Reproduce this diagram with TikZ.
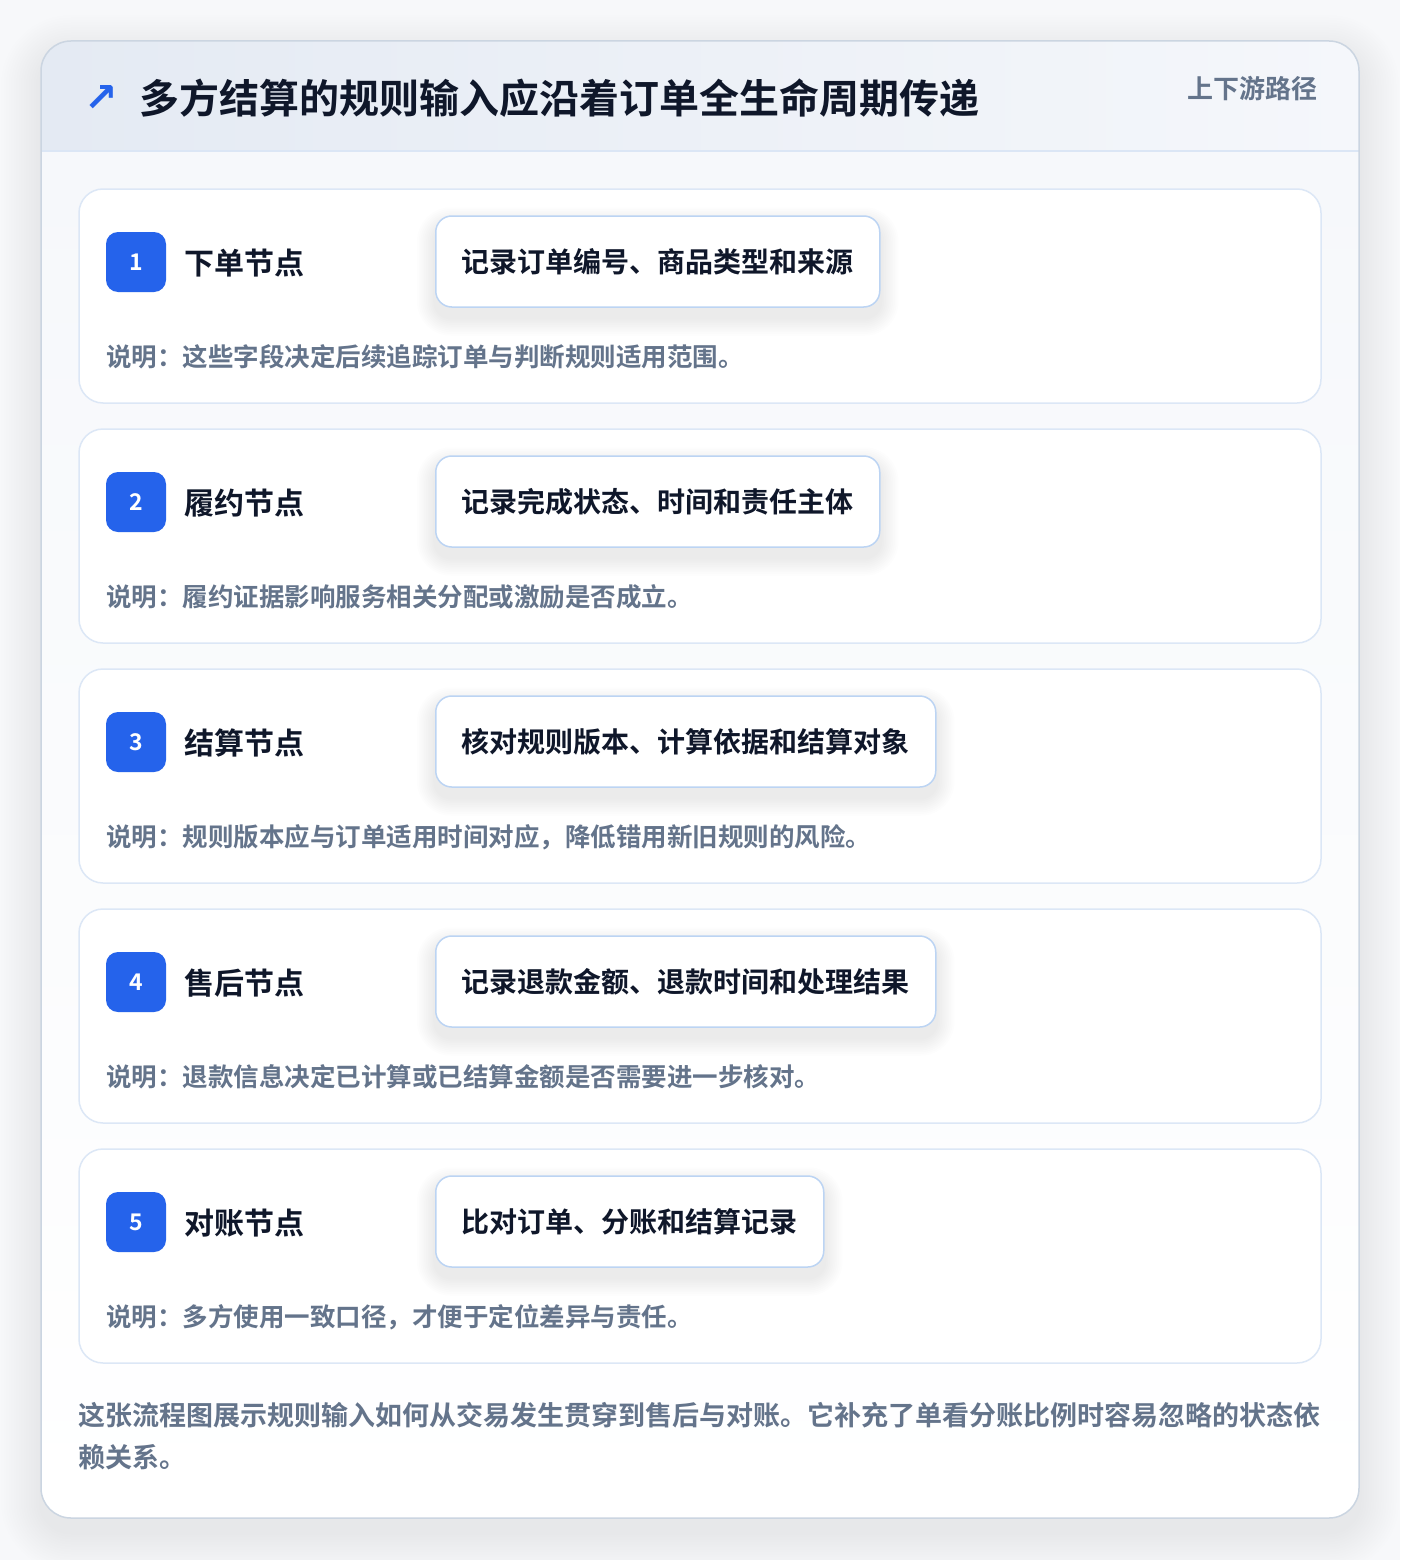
\documentclass[tikz,border=0pt]{standalone}
\usepackage{fontspec}
\setmainfont{Noto Sans CJK SC}[BoldFont={Noto Sans CJK SC Bold}]
\newfontfamily\symfont{DejaVu Sans}
\pgfdeclarelayer{bgl}
\pgfdeclarelayer{cardl}
\pgfdeclarelayer{shadowl}
\pgfsetlayers{bgl,cardl,shadowl,main}
\definecolor{bgc}{HTML}{F7F8FA}
\definecolor{cardline}{HTML}{CBD5E1}
\definecolor{headL}{HTML}{E4EAF3}
\definecolor{headR}{HTML}{F5F7FB}
\definecolor{headline}{HTML}{DBE6F5}
\definecolor{stepline}{HTML}{DCE7F6}
\definecolor{boxline}{HTML}{BCD4F3}
\definecolor{blueacc}{HTML}{2563EB}
\definecolor{darktext}{HTML}{0F172A}
\definecolor{graytext}{HTML}{64748B}
\definecolor{bodytop}{HTML}{F6F8FB}
\definecolor{shadowc}{HTML}{1E293B}
\tikzset{
  stepcard/.style={draw=stepline, line width=1.5pt, fill=white, rounded corners=24},
  badge/.style={fill=blueacc, rounded corners=12, minimum width=60pt, minimum height=60pt, inner sep=0pt, text=white, font=\bfseries\fontsize{23}{24}\selectfont},
  steplabel/.style={anchor=west, inner sep=0pt, text=darktext, font=\bfseries\fontsize{30}{34}\selectfont},
  fieldbox/.style={anchor=west, draw=boxline, line width=1.5pt, fill=white, rounded corners=16, minimum height=91pt, inner xsep=26pt, text=darktext, font=\bfseries\fontsize{28}{32}\selectfont},
  desc/.style={anchor=west, inner sep=0pt, text=graytext, font=\bfseries\fontsize{25.5}{30}\selectfont},
  note/.style={anchor=west, inner sep=0pt, text=graytext, font=\bfseries\fontsize{27}{32}\selectfont},
  softshadow/.style={fill=shadowc, fill opacity=0.0055}
}
\begin{document}
\begin{tikzpicture}[x=1pt,y=-1pt]
\useasboundingbox (0,0) rectangle (1400,1560);
\begin{pgfonlayer}{bgl}
\fill[bgc] (0,0) rectangle (1400,1560);
% outer card shadow
\foreach \k in {1,...,16}{
  \fill[softshadow, rounded corners=30+2.5*\k] (41-2.5*\k,41-2.5*\k+14) rectangle (1359+2.5*\k,1518+2.5*\k+14);
}
% outer card
\begin{scope}
\clip[rounded corners=30] (41,41) rectangle (1359,1518);
\shade[top color=bodytop, bottom color=white] (41,151) rectangle (1359,1518);
\shade[left color=headL, right color=headR] (41,41) rectangle (1359,151);
\draw[headline, line width=1.5pt] (41,151) -- (1359,151);
\end{scope}
\draw[cardline, line width=1.5pt, rounded corners=30] (41,41) rectangle (1359,1518);
\end{pgfonlayer}
% header
\node[anchor=center, inner sep=0pt, text=blueacc, font=\symfont\bfseries\fontsize{40}{40}\selectfont] (arrow) at (101,99) {↗};
\node[anchor=west, inner sep=0pt, text=darktext, font=\bfseries\fontsize{40}{46}\selectfont] (title) at (139,98) {多方结算的规则输入应沿着订单全生命周期传递};
\node[anchor=east, inner sep=0pt, text=graytext, font=\bfseries\fontsize{26}{30}\selectfont] (sub) at (1318,89) {上下游路径};
% steps
\foreach \i/\lab/\fld/\dsc in {
 1/下单节点/记录订单编号、商品类型和来源/说明：这些字段决定后续追踪订单与判断规则适用范围。,
 2/履约节点/记录完成状态、时间和责任主体/说明：履约证据影响服务相关分配或激励是否成立。,
 3/结算节点/核对规则版本、计算依据和结算对象/说明：规则版本应与订单适用时间对应，降低错用新旧规则的风险。,
 4/售后节点/记录退款金额、退款时间和处理结果/说明：退款信息决定已计算或已结算金额是否需要进一步核对。,
 5/对账节点/比对订单、分账和结算记录/说明：多方使用一致口径，才便于定位差异与责任。}{
  \pgfmathsetmacro{\top}{189+(\i-1)*240}
  \begin{pgfonlayer}{cardl}
  \path[stepcard] (79,\top) rectangle (1321,\top+214);
  \end{pgfonlayer}
  \node[badge] (badge\i) at (136,\top+73) {\i};
  \node[steplabel] (label\i) at (184,\top+74) {\lab};
  \node[fieldbox] (box\i) at (435,\top+72.5) {\fld};
  \node[desc] (desc\i) at (106,\top+168) {\dsc};
  \begin{pgfonlayer}{shadowl}
  \foreach \k in {1,...,10}{
    \fill[softshadow, fill opacity=0.008, rounded corners=16+1.8*\k]
      ([xshift=-1.8*\k pt, yshift=1.8*\k pt - 10pt]box\i.north west) rectangle
      ([xshift=1.8*\k pt, yshift=-1.8*\k pt - 10pt]box\i.south east);
  }
  \end{pgfonlayer}
}
% footer note
\node[note] (note1) at (78,1415) {这张流程图展示规则输入如何从交易发生贯穿到售后与对账。它补充了单看分账比例时容易忽略的状态依};
\node[note] (note2) at (78,1457) {赖关系。};
\end{tikzpicture}
\end{document}
